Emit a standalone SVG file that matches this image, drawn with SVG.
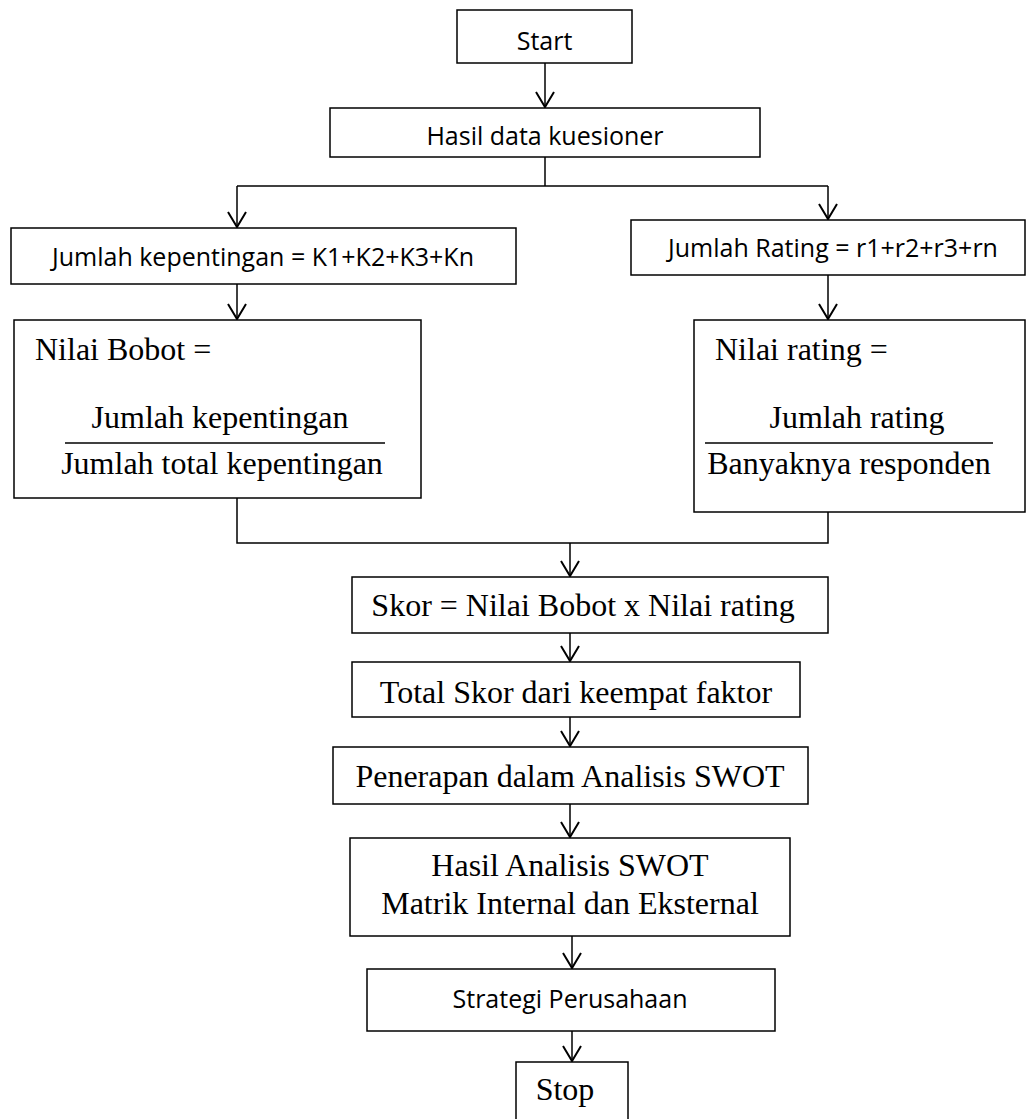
<svg xmlns="http://www.w3.org/2000/svg" width="1034" height="1119" viewBox="0 0 1034 1119">
<style>
.box{fill:#fff;stroke:#000;stroke-width:1.5}
.sans{font-family:"Open Sans","Liberation Sans",sans-serif;fill:#000;font-size:25px}
.serif{font-family:"Liberation Serif","Times New Roman",serif;fill:#000;font-size:32px}
.ln{fill:none;stroke:#000;stroke-width:1.5}
</style>
<defs>
<marker id="arr" viewBox="-16 -10 18 20" refX="0" refY="0" markerWidth="18" markerHeight="20" markerUnits="userSpaceOnUse" orient="auto">
<path d="M-15,-9 L0,0 L-15,9" fill="none" stroke="#000" stroke-width="2"/>
</marker>
</defs>
<rect width="1034" height="1119" fill="#fff"/>
<g id="connectors">
<line x1="545" y1="63" x2="545" y2="107" class="ln" stroke-width="2.5" marker-end="url(#arr)"/>
<polyline points="545,157 545,186" class="ln"/>
<polyline points="237,186 828,186" class="ln"/>
<line x1="237" y1="186" x2="237" y2="227" class="ln" marker-end="url(#arr)"/>
<line x1="828" y1="186" x2="828" y2="219" class="ln" marker-end="url(#arr)"/>
<line x1="237" y1="284" x2="237" y2="319" class="ln" stroke-width="2" marker-end="url(#arr)"/>
<line x1="828" y1="275" x2="828" y2="319" class="ln" stroke-width="2" marker-end="url(#arr)"/>
<polyline points="237,498 237,543 828,543 828,512" class="ln"/>
<line x1="570" y1="543" x2="570" y2="576" class="ln" marker-end="url(#arr)"/>
<line x1="570" y1="633" x2="570" y2="661" class="ln" marker-end="url(#arr)"/>
<line x1="570" y1="717" x2="570" y2="746" class="ln" marker-end="url(#arr)"/>
<line x1="570" y1="804" x2="570" y2="837" class="ln" marker-end="url(#arr)"/>
<line x1="572" y1="936" x2="572" y2="968" class="ln" marker-end="url(#arr)"/>
<line x1="572" y1="1031" x2="572" y2="1061" class="ln" marker-end="url(#arr)"/>
</g>
<g id="start">
<rect x="457" y="10" width="175" height="53" class="box"/>
<text x="544.5" y="50" text-anchor="middle" class="sans">Start</text>
</g>
<g id="hasil-data">
<rect x="330" y="108" width="430" height="49" class="box"/>
<text x="545" y="145" text-anchor="middle" class="sans">Hasil data kuesioner</text>
</g>
<g id="jumlah-kepentingan">
<rect x="11" y="228" width="505" height="56" class="box"/>
<text x="263" y="266" text-anchor="middle" class="sans">Jumlah kepentingan = K1+K2+K3+Kn</text>
</g>
<g id="jumlah-rating">
<rect x="631" y="220" width="394" height="55" class="box"/>
<text x="833" y="257" text-anchor="middle" class="sans">Jumlah Rating = r1+r2+r3+rn</text>
</g>
<g id="nilai-bobot">
<rect x="14" y="320" width="407" height="178" class="box"/>
<text x="35" y="360" class="serif">Nilai Bobot =</text>
<text x="220" y="428" text-anchor="middle" class="serif">Jumlah kepentingan</text>
<line x1="65" y1="443" x2="385" y2="443" stroke="#000" stroke-width="1.5"/>
<text x="222" y="474" text-anchor="middle" class="serif">Jumlah total kepentingan</text>
</g>
<g id="nilai-rating">
<rect x="694" y="320" width="331" height="192" class="box"/>
<text x="715" y="360" class="serif">Nilai rating =</text>
<text x="857" y="428" text-anchor="middle" class="serif">Jumlah rating</text>
<line x1="705" y1="443" x2="993" y2="443" stroke="#000" stroke-width="1.5"/>
<text x="849" y="474" text-anchor="middle" class="serif">Banyaknya responden</text>
</g>
<g id="skor">
<rect x="352" y="577" width="476" height="56" class="box"/>
<text x="583" y="616" text-anchor="middle" class="serif">Skor = Nilai Bobot x Nilai rating</text>
</g>
<g id="total-skor">
<rect x="352" y="662" width="448" height="55" class="box"/>
<text x="576" y="703" text-anchor="middle" class="serif">Total Skor dari keempat faktor</text>
</g>
<g id="penerapan">
<rect x="333" y="747" width="475" height="57" class="box"/>
<text x="570" y="787" text-anchor="middle" class="serif">Penerapan dalam Analisis SWOT</text>
</g>
<g id="hasil-swot">
<rect x="350" y="838" width="440" height="98" class="box"/>
<text x="570" y="876" text-anchor="middle" class="serif">Hasil Analisis SWOT</text>
<text x="570" y="914" text-anchor="middle" class="serif">Matrik Internal dan Eksternal</text>
</g>
<g id="strategi">
<rect x="367" y="969" width="408" height="62" class="box"/>
<text x="570" y="1008" text-anchor="middle" class="sans">Strategi Perusahaan</text>
</g>
<g id="stop">
<rect x="516" y="1062" width="112" height="70" class="box"/>
<text x="565" y="1100" text-anchor="middle" class="serif">Stop</text>
</g>
</svg>
